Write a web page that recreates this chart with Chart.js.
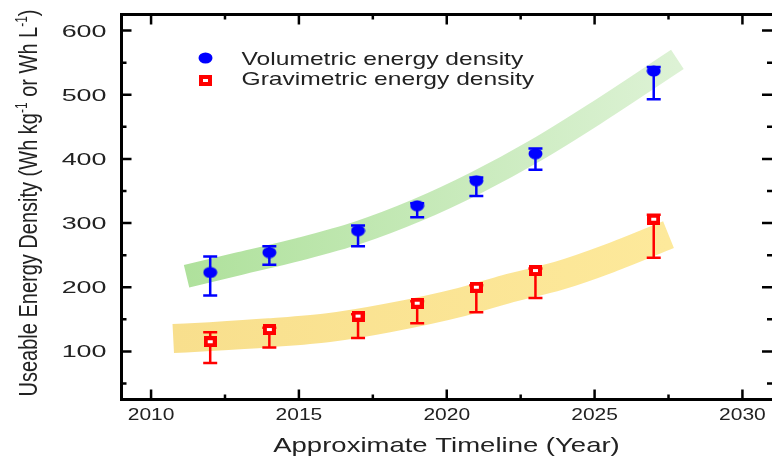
<!DOCTYPE html>
<html>
<head>
<meta charset="utf-8">
<title>Useable Energy Density</title>
<script src="https://cdn.jsdelivr.net/npm/chart.js@4.4.1/dist/chart.umd.min.js"></script>
<style>
  html, body { margin: 0; padding: 0; background: #fff; }
  #wrap { position: relative; width: 772px; height: 460px; }
</style>
</head>
<body>
<div id="wrap"><canvas id="densityChart"></canvas></div>
<script>
(function () {
    "use strict";

    /* ---------- data ---------- */
    const years = [2012, 2014, 2017, 2019, 2021, 2023, 2027];
    const volumetric = [223, 254, 288, 327, 366, 408, 537];
    const volUpper = [248, 264, 296, 331, 371, 416, 543];
    const volLower = [187, 235, 264, 309, 342, 383, 493];
    const gravimetric = [115, 134, 155, 175, 200, 226, 306];
    const gravUpper = [130, 137, 158, 178, 203, 229, 313];
    const gravLower = [82, 106, 121, 144, 161, 183, 246];

    // centre lines of the two shaded trend ribbons
    const volBandYears = [2011.2, 2013, 2015, 2017, 2019, 2021, 2023, 2025, 2027.8];
    const volBandValues = [217, 237, 259, 285, 320, 363, 413, 470, 555];
    const gravBandYears = [2010.75, 2012, 2014, 2016, 2018, 2020.5, 2022, 2023.8, 2025.5, 2027.5];
    const gravBandValues = [120, 123, 129, 137, 152, 177, 197, 218, 245, 282];

    const xTicks = [2010, 2015, 2020, 2025, 2030];
    const xMinorTicks = [2012.5, 2017.5, 2022.5, 2027.5];
    const yTicks = [100, 200, 300, 400, 500, 600];
    const yMinorTicks = [50, 150, 250, 350, 450, 550];

    const xTitle = "Approximate Timeline (Year)";
    const yTitleParts = [
        ["Useable Energy Density (Wh kg", false],
        ["-1", true],
        [" or Wh L", false],
        ["-1", true],
        [")", false]
    ];

    const BLUE = "#0000FF";
    const RED = "#FF0000";
    const INK = "#222222";
    const FONT = "'Liberation Sans', Arial, sans-serif";

    function pts(xs, ys) {
        return xs.map(function (x, i) { return { x: x, y: ys[i] }; });
    }

    /* ---------- marker sprites (slightly wide, like the printed figure) ---------- */
    function ellipseSprite(color) {
        const c = document.createElement("canvas");
        c.width = 15; c.height = 12;
        const g = c.getContext("2d");
        g.fillStyle = color;
        g.beginPath();
        g.ellipse(7.5, 6, 7, 5.5, 0, 0, Math.PI * 2);
        g.fill();
        return c;
    }
    function openSquareSprite(color) {
        const c = document.createElement("canvas");
        c.width = 13; c.height = 11;
        const g = c.getContext("2d");
        g.fillStyle = color;
        g.fillRect(0, 0, 13, 11);
        g.fillStyle = "#FFFFFF";
        g.fillRect(4, 4, 5, 3);
        return c;
    }
    const volSprite = ellipseSprite(BLUE);
    const gravSprite = openSquareSprite(RED);

    function bandColor(from, to, xs) {
        return function (ctx) {
            const chart = ctx.chart;
            if (!chart.chartArea || !chart.scales.x) { return from; }
            const x0 = chart.scales.x.getPixelForValue(xs[0]);
            const x1 = chart.scales.x.getPixelForValue(xs[xs.length - 1]);
            const grad = chart.ctx.createLinearGradient(x0, 0, x1, 0);
            grad.addColorStop(0, from);
            grad.addColorStop(1, to);
            return grad;
        };
    }

    function stretchText(ctx, text, x, y, font, sx, align) {
        ctx.save();
        ctx.translate(x, y);
        ctx.scale(sx, 1);
        ctx.font = font;
        ctx.textAlign = align;
        ctx.textBaseline = "alphabetic";
        ctx.fillText(text, 0, 0);
        ctx.restore();
    }

    /* ---------- error bars, drawn just under each marker series ---------- */
    const errorBars = {
        id: "errorBars",
        beforeDatasetDraw: function (chart, args) {
            const ds = chart.data.datasets[args.index];
            if (!ds.upper) { return; }
            const y = chart.scales.y;
            const ctx = chart.ctx;
            ctx.save();
            ctx.strokeStyle = ds.borderColor;
            ctx.lineWidth = 2.5;
            args.meta.data.forEach(function (pt, i) {
                const yt = y.getPixelForValue(ds.upper[i]);
                const yb = y.getPixelForValue(ds.lower[i]);
                ctx.beginPath();
                ctx.moveTo(pt.x, yt); ctx.lineTo(pt.x, yb);
                ctx.moveTo(pt.x - 7, yt); ctx.lineTo(pt.x + 7, yt);
                ctx.moveTo(pt.x - 7, yb); ctx.lineTo(pt.x + 7, yb);
                ctx.stroke();
            });
            ctx.restore();
        }
    };

    /* ---------- frame, inward ticks, labels, titles, legend ---------- */
    const decorations = {
        id: "decorations",
        afterDraw: function (chart) {
            const ctx = chart.ctx;
            const a = chart.chartArea;
            const xs = chart.scales.x, ys = chart.scales.y;
            const right = a.right + 3;   // right edge of the frame sits just past the canvas

            ctx.save();
            ctx.strokeStyle = "#000";
            ctx.lineWidth = 3;
            ctx.beginPath();
            ctx.moveTo(a.left, a.top); ctx.lineTo(right, a.top);
            ctx.moveTo(a.left, a.top - 1.5); ctx.lineTo(a.left, a.bottom + 1.5);
            ctx.moveTo(a.left - 1.5, a.bottom); ctx.lineTo(right, a.bottom);
            ctx.moveTo(right, a.top); ctx.lineTo(right, a.bottom);
            ctx.stroke();

            ctx.lineWidth = 2.5;
            ctx.beginPath();
            function xTick(v, len) {
                const px = xs.getPixelForValue(v);
                ctx.moveTo(px, a.bottom); ctx.lineTo(px, a.bottom - len);
                ctx.moveTo(px, a.top); ctx.lineTo(px, a.top + len);
            }
            function yTick(v, len) {
                const py = ys.getPixelForValue(v);
                ctx.moveTo(a.left, py); ctx.lineTo(a.left + len, py);
                ctx.moveTo(right, py); ctx.lineTo(right - len - 3, py);
            }
            xTicks.forEach(function (v) { xTick(v, 10); });
            xMinorTicks.forEach(function (v) { xTick(v, 5); });
            yTicks.forEach(function (v) { yTick(v, 10); });
            yMinorTicks.forEach(function (v) { yTick(v, 5); });
            ctx.stroke();

            ctx.fillStyle = INK;
            yTicks.forEach(function (v) {
                stretchText(ctx, String(v), 106.5, ys.getPixelForValue(v) + 6,
                    "16px " + FONT, 1.68, "right");
            });
            xTicks.forEach(function (v) {
                stretchText(ctx, String(v), xs.getPixelForValue(v), 420,
                    "16.3px " + FONT, 1.29, "center");
            });

            stretchText(ctx, xTitle, 446.5, 452, "21px " + FONT, 1.31, "center");

            // rotated y title with superscripts
            ctx.save();
            ctx.translate(37, 203);
            ctx.scale(1.3, 1);
            ctx.rotate(-Math.PI / 2);
            ctx.textAlign = "left";
            ctx.textBaseline = "alphabetic";
            const mainFont = "20px " + FONT, supFont = "12px " + FONT;
            let total = 0;
            yTitleParts.forEach(function (p) {
                ctx.font = p[1] ? supFont : mainFont;
                total += ctx.measureText(p[0]).width;
            });
            let pos = -total / 2;
            yTitleParts.forEach(function (p) {
                ctx.font = p[1] ? supFont : mainFont;
                ctx.fillText(p[0], pos, p[1] ? -8 : 0);
                pos += ctx.measureText(p[0]).width;
            });
            ctx.restore();

            // legend
            const legendRows = [[0, 58, 65], [1, 80, 85]];
            legendRows.forEach(function (r) {
                const ds = chart.data.datasets[r[0]];
                const s = ds.pointStyle;
                ctx.drawImage(s, Math.round(205.5 - s.width / 2), Math.round(r[1] - s.height / 2));
                ctx.fillStyle = INK;
                stretchText(ctx, ds.label, 241.5, r[2], "19px " + FONT, 1.295, "left");
            });
            ctx.restore();
        }
    };

    new Chart(document.getElementById("densityChart").getContext("2d"), {
        type: "scatter",
        data: {
            datasets: [{
                label: "Volumetric energy density",
                data: pts(years, volumetric),
                upper: volUpper,
                lower: volLower,
                borderColor: BLUE,
                backgroundColor: BLUE,
                pointStyle: volSprite,
                pointRadius: 7,
                showLine: false,
                order: 0
            }, {
                label: "Gravimetric energy density",
                data: pts(years, gravimetric),
                upper: gravUpper,
                lower: gravLower,
                borderColor: RED,
                backgroundColor: RED,
                pointStyle: gravSprite,
                pointRadius: 7,
                showLine: false,
                order: 0
            }, {
                label: "volumetric trend",
                type: "line",
                data: pts(volBandYears, volBandValues),
                borderColor: bandColor("rgb(175,225,156)", "rgb(221,242,213)", volBandYears),
                borderWidth: 23,
                borderCapStyle: "butt",
                cubicInterpolationMode: "monotone",
                pointRadius: 0,
                fill: false,
                order: 1
            }, {
                label: "gravimetric trend",
                type: "line",
                data: pts(gravBandYears, gravBandValues),
                borderColor: bandColor("rgb(248,223,141)", "rgb(253,233,155)", gravBandYears),
                borderWidth: 29,
                borderCapStyle: "butt",
                cubicInterpolationMode: "monotone",
                pointRadius: 0,
                fill: false,
                order: 1
            }]
        },
        options: {
            responsive: true,
            maintainAspectRatio: false,
            animation: false,
            events: [],
            layout: {
                autoPadding: false,
                padding: { left: 121.5, top: 14.5, right: 0, bottom: 60.5 }
            },
            plugins: { legend: { display: false }, tooltip: { enabled: false } },
            scales: {
                x: { type: "linear", min: 2009, max: 2031, display: false },
                y: { type: "linear", min: 25, max: 625, display: false }
            }
        },
        plugins: [errorBars, decorations]
    });
})();
</script>
</body>
</html>
